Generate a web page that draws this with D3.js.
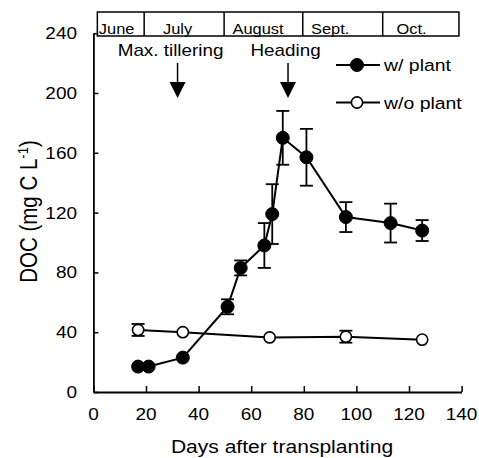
<!DOCTYPE html>
<html>
<head>
<meta charset="utf-8">
<script src="https://cdn.jsdelivr.net/npm/d3@7/dist/d3.min.js"></script>
<style>
  html, body { margin: 0; padding: 0; background: #fff; }
  svg { display: block; }
  text { font-family: "Liberation Sans", Arial, Helvetica, sans-serif; fill: #000; }
</style>
</head>
<body>
<svg id="chart" width="479" height="458"></svg>
<script>
// DOC in soil solution, planted vs. unplanted plots
const plantDays   = [17, 21, 34, 51, 56, 65, 68, 72, 81, 96, 113, 125];
const plantDOC    = [17, 17, 23, 57, 83, 98, 119, 170, 157, 117, 113, 108];
const plantErr    = [0, 0, 0, 5, 5, 15, 20, 18, 19, 10, 13, 7];

const noPlantDays = [17, 34, 67, 96, 125];
const noPlantDOC  = [41.5, 40, 36.5, 37, 35];
const noPlantErr  = [4, 0, 0, 4, 0];

const xTicks = [0, 20, 40, 60, 80, 100, 120, 140];
const yTicks = [0, 40, 80, 120, 160, 200, 240];

// calendar strip along the top (boundaries in days after transplanting)
const monthEdges  = [1.5, 19.3, 49.7, 79.6, 110, 139];
const monthNames  = ["June", "July", "August", "Sept.", "Oct."];
const monthCenter = [null, 32, 62.6, 90, 121];

// growth stage markers
const stageNames = ["Max. tillering", "Heading"];
const stageDays  = [32, 74];
const stageShift = [-7, -2.5];

const legendNames = ["w/ plant", "w/o plant"];

const STRETCH = 1.15; // horizontal widening of the type

const svg = d3.select("#chart");
const x = d3.scaleLinear().domain([0, 140]).range([93.4, 461.6]);
const y = d3.scaleLinear().domain([0, 240]).range([392, 33.2]);

function label(g, tx, ty, str, size, anchor, sx) {
  return g.append("text")
    .attr("transform", `translate(${tx},${ty}) scale(${sx || STRETCH},1)`)
    .attr("text-anchor", anchor || "middle")
    .style("font-size", size + "px")
    .text(str);
}

// axes
const xAxis = svg.append("g")
  .attr("transform", `translate(0,${y(0)})`)
  .call(d3.axisBottom(x).tickValues(xTicks).tickSizeInner(-6).tickSizeOuter(0).tickFormat(""));
const yAxis = svg.append("g")
  .attr("transform", `translate(${x(0)},0)`)
  .call(d3.axisLeft(y).tickValues(yTicks).tickSizeInner(-5).tickSizeOuter(0).tickFormat(""));
[xAxis, yAxis].forEach(a => {
  a.select(".domain").attr("stroke", "#000").attr("stroke-width", 1.8);
  a.selectAll(".tick line").attr("stroke", "#000").attr("stroke-width", 1.5);
});

xTicks.forEach(t => label(svg, x(t), 420, String(t), 16.5));
yTicks.forEach(t => label(svg, 77, y(t) + 6, String(t), 16.5, "end"));

label(svg, 282, 453, "Days after transplanting", 18.3);

// y title, rotated
const yt = svg.append("text")
  .attr("transform", `translate(37,211.5) scale(${STRETCH},1) rotate(-90)`)
  .attr("text-anchor", "middle")
  .style("font-size", "20.5px");
yt.append("tspan").text("DOC (mg C L");
yt.append("tspan").attr("dy", -8).style("font-size", "13px").text("-1");
yt.append("tspan").attr("dy", 8).text(")");

// month strip
const strip = svg.append("g");
strip.append("rect")
  .attr("x", x(monthEdges[0])).attr("y", 12)
  .attr("width", x(monthEdges[5]) - x(monthEdges[0])).attr("height", 24)
  .attr("fill", "none").attr("stroke", "#000").attr("stroke-width", 1.5);
monthEdges.slice(1, -1).forEach(d => {
  strip.append("line")
    .attr("x1", x(d)).attr("x2", x(d)).attr("y1", 12).attr("y2", 36)
    .attr("stroke", "#000").attr("stroke-width", 1.5);
});
monthNames.forEach((m, i) => {
  if (monthCenter[i] === null) label(strip, x(monthEdges[0]) + 1.5, 34, m, 15.5, "start", 1.06);
  else label(strip, x(monthCenter[i]), 34, m, 15.5, "middle", 1.06);
});

// growth stage arrows
stageNames.forEach((s, i) => {
  const ax = x(stageDays[i]);
  label(svg, ax + stageShift[i], 56, s, 16.4);
  svg.append("line").attr("x1", ax).attr("x2", ax).attr("y1", 63).attr("y2", 83)
    .attr("stroke", "#000").attr("stroke-width", 1.5);
  svg.append("path").attr("d", `M${ax - 8},82 L${ax + 8},82 L${ax},98 Z`).attr("fill", "#000");
});

// series
function drawSeries(days, vals, errs, filled) {
  const pts = days.map((d, i) => ({ d, v: vals[i], e: errs[i] }));
  const g = svg.append("g");
  g.append("path").datum(pts)
    .attr("d", d3.line().x(p => x(p.d)).y(p => y(p.v)))
    .attr("fill", "none").attr("stroke", "#000").attr("stroke-width", 2);
  pts.filter(p => p.e > 0).forEach(p => {
    const px = x(p.d), top = y(p.v + p.e), bot = y(p.v - p.e);
    g.append("line").attr("x1", px).attr("x2", px).attr("y1", top).attr("y2", bot)
      .attr("stroke", "#000").attr("stroke-width", 1.8);
    [top, bot].forEach(cy => g.append("line")
      .attr("x1", px - 6.5).attr("x2", px + 6.5).attr("y1", cy).attr("y2", cy)
      .attr("stroke", "#000").attr("stroke-width", 1.8));
  });
  g.selectAll("circle").data(pts).join("circle")
    .attr("cx", p => x(p.d)).attr("cy", p => y(p.v))
    .attr("r", filled ? 6.5 : 5.6)
    .attr("fill", filled ? "#000" : "#fff")
    .attr("stroke", "#000").attr("stroke-width", filled ? 1 : 1.6);
}
drawSeries(noPlantDays, noPlantDOC, noPlantErr, false);
drawSeries(plantDays, plantDOC, plantErr, true);

// legend
legendNames.forEach((name, i) => {
  const ly = i === 0 ? 65 : 102.5;
  const filled = i === 0;
  svg.append("line").attr("x1", 336).attr("x2", 380).attr("y1", ly).attr("y2", ly)
    .attr("stroke", "#000").attr("stroke-width", 2);
  svg.append("circle").attr("cx", 357).attr("cy", ly).attr("r", filled ? 6.5 : 5.6)
    .attr("fill", filled ? "#000" : "#fff").attr("stroke", "#000")
    .attr("stroke-width", filled ? 1 : 1.6);
  label(svg, 384, ly + 6, name, 16.9, "start");
});
</script>
</body>
</html>
